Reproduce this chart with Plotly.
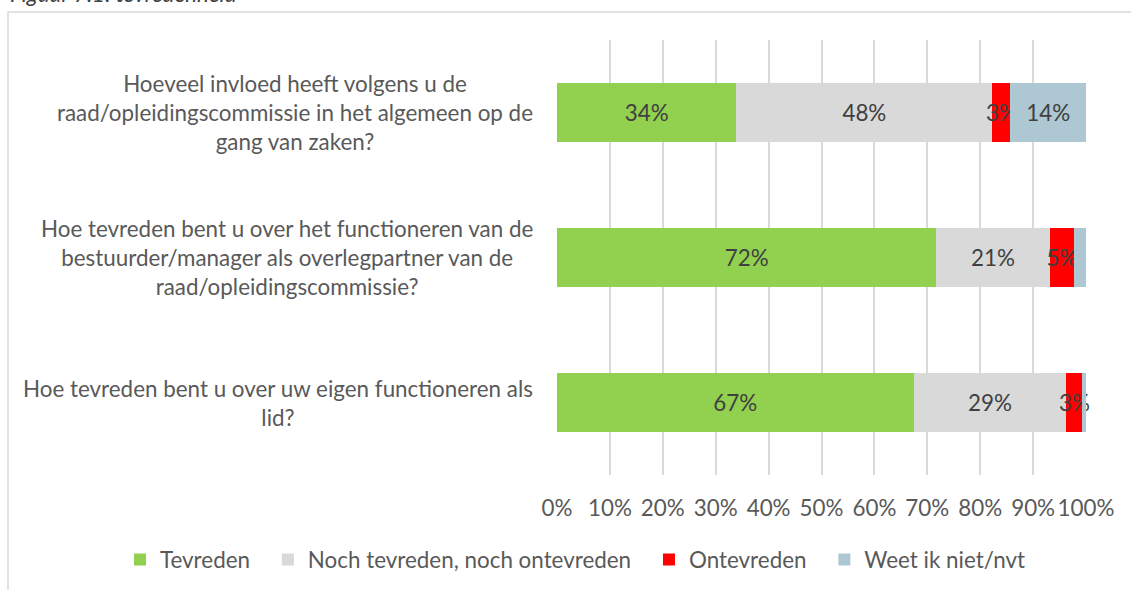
import plotly.graph_objects as go

# ---- data ----
questions = [
    "Hoeveel invloed heeft volgens u de<br>raad/opleidingscommissie in het algemeen op de<br>gang van zaken?",
    "Hoe tevreden bent u over het functioneren van de<br>bestuurder/manager als overlegpartner van de<br>raad/opleidingscommissie?",
    "Hoe tevreden bent u over uw eigen functioneren als<br>lid?",
]
series_names = ["Tevreden", "Noch tevreden, noch ontevreden", "Ontevreden", "Weet ik niet/nvt"]
tevreden = [33.9, 71.7, 67.4]
neutraal = [48.4, 21.4, 28.9]
ontevreden = [3.4, 4.7, 3.0]
weet_niet = [14.3, 2.2, 0.7]
labels_tevreden = ["34%", "72%", "67%"]
labels_neutraal = ["48%", "21%", "29%"]
labels_ontevreden = ["3%", "5%", "3%"]
labels_weet_niet = ["14%", "", ""]
tick_vals = [0, 10, 20, 30, 40, 50, 60, 70, 80, 90, 100]
tick_text = ["0%", "10%", "20%", "30%", "40%", "50%", "60%", "70%", "80%", "90%", "100%"]
colors = ["#92d050", "#d9d9d9", "#ff0000", "#adc7d3"]

FONT = "Lato"
FS = 22.4
W, H = 1131, 590
L, R, T, B = 557, 45, 40, 115
pw, ph = W - L - R, H - T - B
LEGEND_PAD = "\u00a0\u00a0\u200a"

def px_x(p):
    return (p - L) / pw

def px_y(p):
    return (H - B - p) / ph

fig = go.Figure()
for name, vals, labs, col in zip(
    series_names,
    [tevreden, neutraal, ontevreden, weet_niet],
    [labels_tevreden, labels_neutraal, labels_ontevreden, labels_weet_niet],
    colors,
):
    fig.add_trace(go.Bar(
        name=name + LEGEND_PAD, y=questions, x=vals, orientation="h",
        marker=dict(color=col, line=dict(width=0)),
        text=labs, textposition="inside", insidetextanchor="middle",
        textangle=0, constraintext="none", cliponaxis=False,
        textfont=dict(family=FONT, size=FS, color="#404040"),
        width=0.41, hoverinfo="skip",
    ))

annotations = []
for q in questions:
    annotations.append(dict(
        xref="paper", yref="y", x=px_x(535), y=q, xanchor="right", yanchor="middle",
        text=q, showarrow=False, align="center",
        font=dict(family=FONT, size=FS, color="#595959"),
    ))

annotations.append(dict(
    xref="paper", yref="paper", x=px_x(8), y=px_y(9), xanchor="left", yanchor="bottom",
    text="<i>Figuur 7.1: tevredenheid</i>", showarrow=False,
    font=dict(family=FONT, size=FS, color="#404040"),
))

fig.update_layout(
    width=W, height=H,
    margin=dict(l=L, r=R, t=T, b=B, autoexpand=False),
    barmode="stack",
    plot_bgcolor="white", paper_bgcolor="white",
    xaxis=dict(range=[0, 100], tickvals=tick_vals, ticktext=tick_text,
               showgrid=True, gridcolor="#d9d9d9", gridwidth=1.5, zeroline=False,
               showline=False, ticks="", ticklen=0, ticklabelstandoff=18,
               tickfont=dict(family=FONT, size=FS, color="#595959")),
    yaxis=dict(categoryorder="array", categoryarray=questions[::-1],
               showticklabels=False, showgrid=False, zeroline=False, ticks=""),
    legend=dict(orientation="h", x=px_x(120), xanchor="left",
                y=px_y(560), yanchor="middle",
                font=dict(family=FONT, size=FS, color="#595959"),
                traceorder="normal", itemwidth=30),
    showlegend=True,
    annotations=annotations,
    shapes=[dict(type="rect", xref="paper", yref="paper",
                 x0=px_x(8), y0=px_y(600), x1=px_x(1140), y1=px_y(12),
                 line=dict(color="#d9d9d9", width=1.5), layer="below")],
)

fig.write_html("out.html", config={"displayModeBar": False},
               post_script="document.body.style.margin='0';document.body.style.overflow='hidden';")
